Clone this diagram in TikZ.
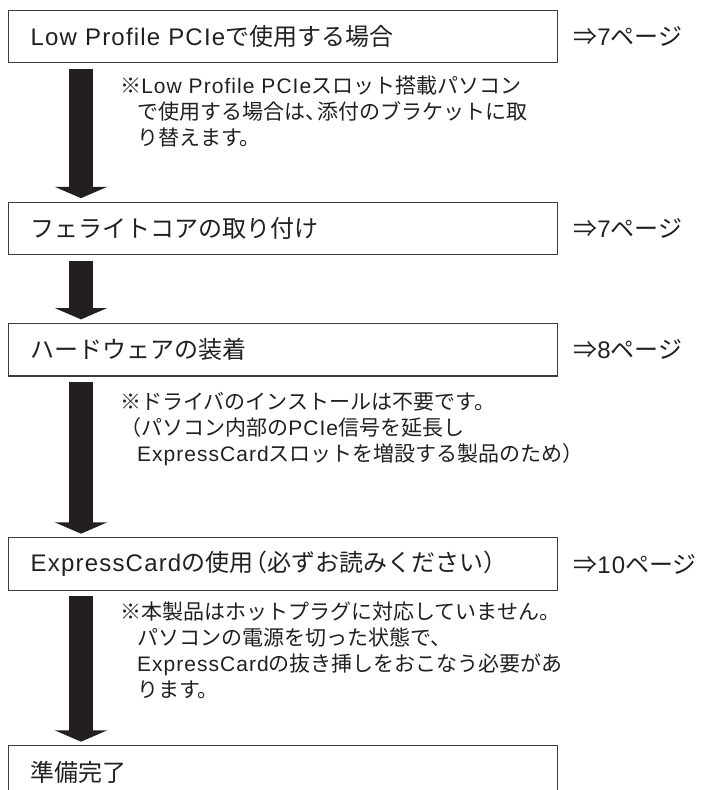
\documentclass[tikz,border=0pt]{standalone}
\usepackage{fontspec}
\setmainfont{Noto Sans CJK JP}
\newfontfamily\latin{Liberation Sans}[LetterSpace=5]
\usetikzlibrary{arrows.meta}
\definecolor{ink}{HTML}{231F20}
\definecolor{frame}{HTML}{3C3C3C}
\begin{document}
\begin{tikzpicture}[x=0.75pt,y=-0.75pt,
  every node/.style={text=ink},
  stepbox/.style={draw=frame, line width=1pt, anchor=north west, inner xsep=16.5pt, inner ysep=0pt,
    minimum height=39.4pt, text width=378.75pt, align=left, font=\fontsize{18pt}{22pt}\selectfont},
  pageref/.style={anchor=west, inner sep=0pt, font=\fontsize{18pt}{22pt}\selectfont},
  note/.style={anchor=north west, inner sep=0pt, align=left, font=\fontsize{15.75pt}{19.5pt}\selectfont},
  flow/.style={draw=ink, line width=18pt, -{Triangle[width=39pt,length=8.5pt]}, shorten <=4pt, shorten >=2.5pt}]
\useasboundingbox (0,0) rectangle (705,790);

\node[stepbox] (b1) at (8,9.5){{\latin Low Profile PCIe}で使用する場合};
\node[pageref] (r1) at ([xshift=11pt]b1.east){⇒{\latin 7}ページ};
\node[note] (n1) at (120,75.5){※{\latin Low Profile PCIe}スロット搭載パソコン\\
  \hspace*{0.8em}で使用する場合は、\kern-0.4em 添付のブラケットに取\\
  \hspace*{0.8em}り替えます。};

\node[stepbox] (b2) at (8,201.5){フェライトコアの取り付け};
\node[pageref] (r2) at ([xshift=11pt]b2.east){⇒{\latin 7}ページ};

\node[stepbox] (b3) at (8,322.7){ハードウェアの装着};
\node[pageref] (r3) at ([xshift=11pt]b3.east){⇒{\latin 8}ページ};
\node[note] (n3) at (120,392.5){※ドライバのインストールは不要です。\\
  （パソコン内部の{\latin PCIe}信号を延長し\\
  \hspace*{0.8em}{\latin ExpressCard}スロットを増設する製品のため）};

\node[stepbox] (b4) at (8,537){{\latin ExpressCard}の使用\kern-0.4em（必ずお読みください）};
\node[pageref] (r4) at ([xshift=11pt]b4.east){⇒{\latin 10}ページ};
\node[note] (n4) at (120,601.5){※本製品はホットプラグに対応していません。\\
  \hspace*{0.8em}パソコンの電源を切った状態で、\\
  \hspace*{0.8em}{\latin ExpressCard}の抜き挿しをおこなう必要があ\\
  \hspace*{0.8em}ります。};

\node[stepbox] (b5) at (8,745){準備完了};

\draw[flow] ([xshift=54.75pt]b1.south west) -- ([xshift=54.75pt]b2.north west);
\draw[flow] ([xshift=54.75pt]b2.south west) -- ([xshift=54.75pt]b3.north west);
\draw[flow] ([xshift=54.75pt]b3.south west) -- ([xshift=54.75pt]b4.north west);
\draw[flow] ([xshift=54.75pt]b4.south west) -- ([xshift=54.75pt]b5.north west);

\end{tikzpicture}
\end{document}
